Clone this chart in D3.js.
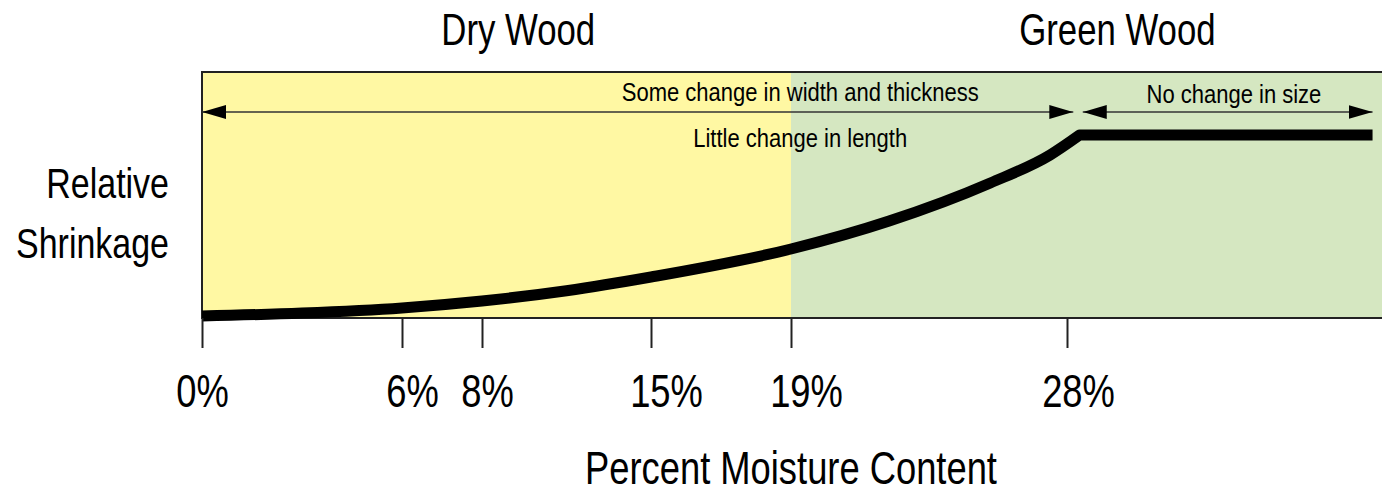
<!DOCTYPE html>
<html>
<head>
<meta charset="utf-8">
<script src="https://cdn.jsdelivr.net/npm/d3@7"></script>
<style>
body { margin: 0; background: #fff; }
text { font-family: "Liberation Sans Narrow", "Arial Narrow", "Liberation Sans", sans-serif; fill: #000; }
</style>
</head>
<body>
<script>
"use strict";

// Data
let tickValues = [0, 6, 8, 15, 19, 28];
let tickLabels = ["0%", "6%", "8%", "15%", "19%", "28%"];

// Shrinkage curve (moisture %, relative shrinkage, 1 = level reached at fibre saturation)
let moisture  = [0,     3,     6,     8,     11.5,  15,    19,    22.2, 25.5,  27.45, 28.4];
let shrinkage = [0.011, 0.027, 0.055, 0.093, 0.149, 0.224, 0.377, 0.53, 0.738, 0.891, 1.0];
let flatEnd = 37.7; // curve stays flat above fibre saturation

let zoneNames = ["Dry Wood", "Green Wood"];
let zoneFrom = [0, 19];
let zoneTo = [38, 38];
let zoneLabelAt = [9.5, 29.6];
let zoneColors = ["#fff8a3", "#d5e7c1"];

let arrowFrom = [0, 28.5];
let arrowTo = [28.2, 37.7];

let notes = [
    {text: "Some change in width and thickness", at: 19.3, row: 0},
    {text: "Little change in length", at: 19.3, row: 1},
    {text: "No change in size", at: 33.3, row: 2}
];

// Layout
let w = 1382;
let h = 490;
let plotLeft = 202, plotTop = 72, plotBottom = 318;
// the drawing does not space the ticks evenly, so the x scale is piecewise
let axisDomain = [0, 6, 8, 15, 19, 28, 38];
let axisStops = [0, 200, 280, 449, 589, 865, 1180];
// tick labels sit a little right of their ticks in the original
let labelNudge = [0, 10, 5, 15, 15, 11];
let noteBaselines = [101, 147, 103];
let arrowY = 112;
// no condensed face is installed, so text is squeezed horizontally
let squeezeBig = 0.79, squeezeSmall = 0.88;

let x = d3.scaleLinear()
    .domain(axisDomain)
    .range(axisStops.map(d => plotLeft + d));

let y = d3.scaleLinear()
    .domain([0, 1])
    .range([plotBottom, 135]);

let svg = d3.select("body")
    .append("svg")
    .attr("width", w)
    .attr("height", h);

let place = (px, py, s) => `translate(${px},${py}) scale(${s},1)`;

// Background zones
svg.append("g")
    .selectAll("rect")
    .data(zoneNames)
    .enter().append("rect")
    .attr("x", (d, i) => x(zoneFrom[i]))
    .attr("y", plotTop)
    .attr("width", (d, i) => x(zoneTo[i]) - x(zoneFrom[i]))
    .attr("height", plotBottom - plotTop)
    .attr("fill", (d, i) => zoneColors[i]);

svg.append("g")
    .selectAll("text")
    .data(zoneNames)
    .enter().append("text")
    .attr("transform", (d, i) => place(x(zoneLabelAt[i]), 45, squeezeBig))
    .attr("text-anchor", "middle")
    .attr("font-size", 44)
    .text(d => d);

// Frame: top, left and bottom edges only
svg.append("path")
    .attr("d", `M${w},${plotTop}H${plotLeft}V${plotBottom}H${w}`)
    .attr("fill", "none")
    .attr("stroke", "#222")
    .attr("stroke-width", 2);

// Arrow heads
let defs = svg.append("defs");
defs.append("marker")
    .attr("id", "head")
    .attr("viewBox", "0 -7 24 14")
    .attr("refX", 24)
    .attr("refY", 0)
    .attr("markerWidth", 24)
    .attr("markerHeight", 14)
    .attr("markerUnits", "userSpaceOnUse")
    .attr("orient", "auto-start-reverse")
    .append("path")
    .attr("d", "M0,-7L24,0L0,7Z")
    .attr("fill", "#000");

svg.append("g")
    .selectAll("line")
    .data(arrowFrom)
    .enter().append("line")
    .attr("x1", d => x(d))
    .attr("x2", (d, i) => x(arrowTo[i]))
    .attr("y1", arrowY)
    .attr("y2", arrowY)
    .attr("stroke", "#333")
    .attr("stroke-width", 1.3)
    .attr("marker-start", "url(#head)")
    .attr("marker-end", "url(#head)");

svg.append("g")
    .selectAll("text")
    .data(notes)
    .enter().append("text")
    .attr("transform", d => place(x(d.at), noteBaselines[d.row], squeezeSmall))
    .attr("text-anchor", "middle")
    .attr("font-size", 25)
    .text(d => d.text);

// Shrinkage curve: smooth rise, then a sharp corner into the flat part
let points = moisture.map((m, i) => [m, shrinkage[i]]);
let rise = d3.line()
    .x(d => x(d[0]))
    .y(d => y(d[1]))
    .curve(d3.curveMonotoneX)(points);
let last = points[points.length - 1];

svg.append("path")
    .attr("d", rise + `L${x(flatEnd)},${y(last[1])}`)
    .attr("fill", "none")
    .attr("stroke", "#000")
    .attr("stroke-width", 11)
    .attr("stroke-linejoin", "round");

// X axis: ticks hang below the frame
let xAxis = d3.axisBottom(x)
    .tickValues(tickValues)
    .tickFormat((d, i) => tickLabels[i])
    .tickSize(30)
    .tickPadding(26);

let ax = svg.append("g")
    .attr("transform", `translate(0,${plotBottom})`)
    .call(xAxis);
ax.select(".domain").remove();
ax.selectAll("line").attr("stroke", "#222").attr("stroke-width", 2);
ax.attr("font-family", null).attr("font-size", null);
ax.selectAll("text")
    .attr("font-size", 46)
    .attr("fill", "#000")
    .attr("transform", (d, i) => `translate(${labelNudge[i]},0) scale(${squeezeBig},1)`);

svg.append("text")
    .attr("transform", place(x(19), 484, squeezeBig))
    .attr("text-anchor", "middle")
    .attr("font-size", 46)
    .text("Percent Moisture Content");

// Y label
let ylab = svg.append("text")
    .attr("transform", place(169, 0, squeezeBig))
    .attr("text-anchor", "end")
    .attr("font-size", 43);
ylab.append("tspan").attr("x", 0).attr("y", 198).text("Relative");
ylab.append("tspan").attr("x", 0).attr("y", 258).text("Shrinkage");
</script>
</body>
</html>
